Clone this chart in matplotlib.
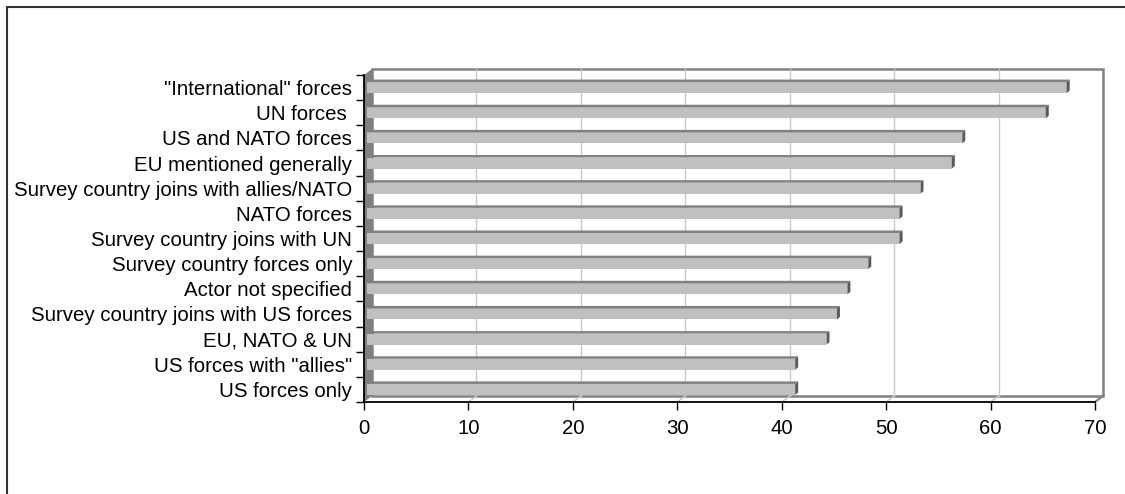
import numpy as np
import matplotlib.pyplot as plt
from matplotlib.patches import Polygon, Rectangle

labels = ['"International" forces', 'UN forces ', 'US and NATO forces',
          'EU mentioned generally', 'Survey country joins with allies/NATO',
          'NATO forces', 'Survey country joins with UN',
          'Survey country forces only', 'Actor not specified',
          'Survey country joins with US forces', 'EU, NATO & UN',
          'US forces with "allies"', 'US forces only']
values = [67, 65, 57, 56, 53, 51, 51, 48, 46, 45, 44, 41, 41]
xticks = [0, 10, 20, 30, 40, 50, 60, 70]

plt.rcParams['font.family'] = ['Liberation Sans', 'DejaVu Sans']

W, H = 1125, 494
fig = plt.figure(figsize=(W/100., H/100.), dpi=100)
ax = fig.add_axes([364./W, 1-402./H, 731./W, 327./H])
n = len(labels)
y = np.arange(n)
XMAX = xticks[-1]
ax.set_xlim(0, XMAX)
ax.set_ylim(n-0.5, -0.5)

# pixel -> data units
px2x = XMAX/731.
px2y = n/327.
DX, DY = 8*px2x, 6*px2y       # depth of the 3d box
BX = 3*px2x                   # bar front face offset
TX, TY = 3*px2x, 2.5*px2y     # bar depth
BH = 11*px2y                  # bar height

# back wall
ax.add_patch(Rectangle((DX, -0.5-DY), XMAX, n, fc='white', ec='#808080',
                       lw=1.8, clip_on=False, zorder=0.5))
for g in xticks[1:-1]:
    ax.plot([g+DX, g+DX], [-0.5-DY, n-0.5-DY], color='#c8c8c8', lw=1,
            clip_on=False, zorder=0.6)
    ax.plot([g, g+DX], [n-0.5, n-0.5-DY], color='#c8c8c8', lw=1,
            clip_on=False, zorder=0.6)
# floor right slant
ax.plot([XMAX, XMAX+DX], [n-0.5, n-0.5-DY], color='#808080', lw=1.5,
        clip_on=False, zorder=0.7)
# left wall
ax.add_patch(Polygon([(0, -0.5), (0, n-0.5), (DX, n-0.5-DY), (DX, -0.5-DY)],
                     closed=True, fc='#808080', ec='none', clip_on=False, zorder=1))

# bars
ax.barh(y, values, left=BX, height=BH, color='#c0c0c0', zorder=3, clip_on=False)
for yc, v in zip(y, values):
    top = yc - BH/2
    bot = yc + BH/2
    ax.add_patch(Polygon([(BX, top), (BX+v, top), (BX+v+TX, top-TY), (BX+TX, top-TY)],
                         closed=True, fc='#808080', ec='none', zorder=3, clip_on=False))
    ax.add_patch(Polygon([(BX+v, top), (BX+v, bot), (BX+v+TX, bot-TY), (BX+v+TX, top-TY)],
                         closed=True, fc='#5a5a5a', ec='none', zorder=3, clip_on=False))

# axes
for s in ['top', 'right']:
    ax.spines[s].set_visible(False)
for s in ['left', 'bottom']:
    ax.spines[s].set_linewidth(1.3)
    ax.spines[s].set_zorder(5)
ax.set_facecolor('none')
ax.set_yticks(y)
ax.set_yticklabels(labels)
ax.set_yticks(np.arange(n+1)-0.5, minor=True)
ax.tick_params(axis='y', which='major', length=0, pad=8.5, labelsize=14.7)
ax.tick_params(axis='y', which='minor', length=6, width=1, color='black')
ax.set_xticks(xticks)
ax.tick_params(axis='x', which='major', length=6, width=1, pad=6, labelsize=14.7)

# chart border
fig.add_artist(Rectangle((6.5/W, -0.1), 2, 1-6.5/H+0.1, transform=fig.transFigure,
                         fill=False, ec='#333333', lw=1.5))

fig.savefig('out.png', dpi=100)
